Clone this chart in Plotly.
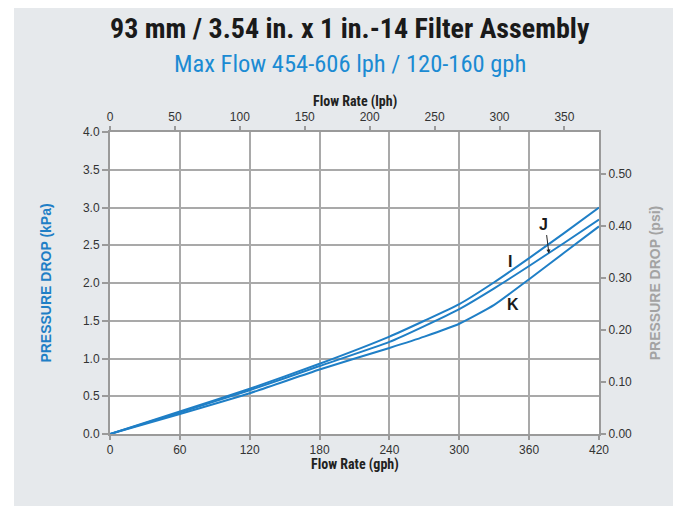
import plotly.graph_objects as go

# ---- data ----
flow_gph = [0, 60, 120, 180, 240, 270, 300, 330, 360, 390, 420]
drop_I = [0, 0.30, 0.60, 0.93, 1.29, 1.50, 1.72, 2.01, 2.33, 2.66, 3.00]
drop_J = [0, 0.285, 0.58, 0.90, 1.22, 1.43, 1.655, 1.93, 2.225, 2.53, 2.84]
drop_K = [0, 0.265, 0.54, 0.855, 1.14, 1.29, 1.46, 1.71, 2.05, 2.40, 2.75]
series_names = ["I", "J", "K"]

gph_ticks = [0, 60, 120, 180, 240, 300, 360, 420]
lph_ticks = [0, 50, 100, 150, 200, 250, 300, 350]
lph_max = 376.6
kpa_ticks = [0, 0.5, 1.0, 1.5, 2.0, 2.5, 3.0, 3.5, 4.0]
psi_ticks = [0, 0.1, 0.2, 0.3, 0.4, 0.5]
KPA_PER_PSI = 6.894757

title_text = "93 mm / 3.54 in. x 1 in.-14 Filter Assembly"
subtitle_text = "Max Flow 454-606 lph / 120-160 gph"
xtitle_bottom = "Flow Rate (gph)"
xtitle_top = "Flow Rate (lph)"

# ---- style ----
BG = "#e6e9ec"
BLUE = "#1f7fc6"
GRID = "#a9a9a9"
AXIS = "#9a9a9a"
TICKC = "#333333"
NARROW = "Liberation Sans Narrow, Arial Narrow, Roboto Condensed, DejaVu Sans Condensed, sans-serif"
SANS = "Liberation Sans, Arial, Helvetica, sans-serif"

fig = go.Figure()
for name, ys in zip(series_names, [drop_I, drop_J, drop_K]):
    fig.add_trace(go.Scatter(x=flow_gph, y=ys, mode="lines", name=name,
                             line=dict(color=BLUE, width=2, shape="spline", smoothing=0.5),
                             hoverinfo="x+y+name"))
# invisible trace to activate secondary axes
fig.add_trace(go.Scatter(x=[0, lph_max], y=[0, 4 / KPA_PER_PSI], xaxis="x2", yaxis="y2",
                         mode="markers", marker=dict(opacity=0), showlegend=False, hoverinfo="skip"))

tickfont = dict(family=SANS, size=12, color=TICKC)

fig.update_layout(
    width=681, height=506,
    margin=dict(l=102, r=90, t=124, b=80),
    paper_bgcolor=BG, plot_bgcolor="white",
    showlegend=False,
    xaxis=dict(range=[0, 420], tickvals=gph_ticks, ticks="outside", ticklen=4, tickwidth=1.5,
               tickcolor=AXIS, showgrid=True, gridcolor=GRID, gridwidth=1.5,
               showline=True, linecolor=AXIS, linewidth=2, zeroline=False,
               tickfont=tickfont),
    yaxis=dict(range=[0, 4], tickvals=kpa_ticks, tickformat=".1f", ticks="outside", ticklen=6,
               tickwidth=1.5, tickcolor=AXIS, showgrid=True, gridcolor=GRID, gridwidth=1.5,
               showline=True, linecolor=AXIS, linewidth=2, zeroline=False,
               tickfont=tickfont,
               title=dict(text="<b>PRESSURE DROP (kPa)</b>", standoff=28,
                          font=dict(family=SANS, size=14, color=BLUE))),
    xaxis2=dict(overlaying="x", side="top", range=[0, lph_max], tickvals=lph_ticks,
                ticks="outside", ticklen=4, tickwidth=1.5, tickcolor=AXIS, showgrid=False,
                showline=True, linecolor=AXIS, linewidth=2, zeroline=False,
                tickfont=tickfont),
    yaxis2=dict(overlaying="y", side="right", range=[0, 4 / KPA_PER_PSI], tickvals=psi_ticks,
                tickformat=".2f", ticks="outside", ticklen=5, tickwidth=1.5, tickcolor=AXIS,
                showgrid=False, showline=True, linecolor=AXIS, linewidth=2, zeroline=False,
                tickfont=tickfont,
                title=dict(text="<b>PRESSURE DROP (psi)</b>", standoff=19,
                           font=dict(family=SANS, size=14, color="#a3a3a3"))),
)

# white strip at the left of the grey panel
fig.add_shape(type="rect", xref="paper", yref="paper", x0=-0.3, x1=(14 - 110) / 489,
              y0=-0.3, y1=1.5, fillcolor="white", line=dict(width=0), layer="below")

# x axis titles
xfont = dict(family=NARROW, size=14, color="#222")
fig.add_annotation(text="<b>" + xtitle_bottom + "</b>", xref="paper", yref="paper",
                   x=0.5, y=(434 - 464.5) / 302, showarrow=False, xanchor="center",
                   yanchor="middle", font=xfont)
fig.add_annotation(text="<b>" + xtitle_top + "</b>", xref="paper", yref="paper",
                   x=0.5, y=(434 - 101) / 302, showarrow=False, xanchor="center",
                   yanchor="middle", font=xfont)

# titles
fig.add_annotation(text="<b>" + title_text + "</b>", xref="paper", yref="paper",
                   x=(349.5 - 110) / 489, y=(434 - 28) / 302, showarrow=False,
                   xanchor="center", yanchor="middle",
                   font=dict(family=NARROW, size=28, color="#1a1a1a"))
fig.add_annotation(text=subtitle_text, xref="paper", yref="paper",
                   x=(350 - 110) / 489, y=(434 - 64) / 302, showarrow=False,
                   xanchor="center", yanchor="middle",
                   font=dict(family=NARROW, size=24.5, color="#1b8bd3"))

# curve labels
labfont = dict(family=SANS, size=16, color="#1a1a1a")
fig.add_annotation(text="<b>I</b>", x=343.6, y=2.28, showarrow=False, font=labfont)
fig.add_annotation(text="<b>K</b>", x=346, y=1.71, showarrow=False, font=labfont)
fig.add_annotation(text="<b>J</b>", x=371.9, y=2.77, showarrow=False, font=labfont)
fig.add_annotation(text="", x=377, y=2.39, ax=-2.5, ay=-20, showarrow=True,
                   arrowhead=2, arrowsize=0.8, arrowwidth=1, arrowcolor="#222")

fig.write_html("out.html")
